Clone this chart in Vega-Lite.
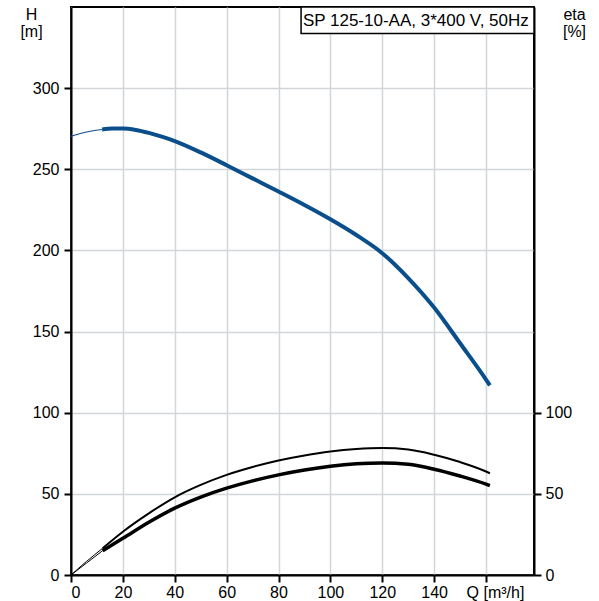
{
  "$schema": "https://vega.github.io/schema/vega-lite/v6.json",
  "width": 463,
  "height": 568,
  "autosize": {"type": "none"},
  "padding": {"left": 71, "top": 7, "right": 65, "bottom": 26},
  "background": "white",
  "config": {
    "font": "Liberation Sans",
    "view": {"stroke": "black", "strokeWidth": 2},
    "axis": {
      "domainColor": "black", "domainWidth": 2,
      "tickColor": "black", "tickWidth": 2, "tickSize": 7,
      "labelFont": "Liberation Sans", "labelFontSize": 16, "labelColor": "black",
      "titleFont": "Liberation Sans", "titleFontSize": 16, "titleFontWeight": "normal", "titleColor": "black",
      "gridColor": "#d3d6d9", "gridWidth": 1.5
    }
  },
  "datasets": {
    "curves": [
      {"s": "H_thin", "Q": 0, "v": 270.3}, {"s": "H_thin", "Q": 4, "v": 272.2}, {"s": "H_thin", "Q": 8, "v": 273.6}, {"s": "H_thin", "Q": 12, "v": 274.5},
      {"s": "H", "Q": 12, "v": 274.5}, {"s": "H", "Q": 16, "v": 275.1}, {"s": "H", "Q": 20, "v": 275.1}, {"s": "H", "Q": 25, "v": 274.2}, {"s": "H", "Q": 30, "v": 272.4}, {"s": "H", "Q": 35, "v": 270.1}, {"s": "H", "Q": 40, "v": 267.4}, {"s": "H", "Q": 50, "v": 260.4}, {"s": "H", "Q": 60, "v": 252.5}, {"s": "H", "Q": 70, "v": 244.4}, {"s": "H", "Q": 80, "v": 236.3}, {"s": "H", "Q": 90, "v": 228}, {"s": "H", "Q": 100, "v": 219.2}, {"s": "H", "Q": 110, "v": 209.5}, {"s": "H", "Q": 120, "v": 198.3}, {"s": "H", "Q": 130, "v": 183}, {"s": "H", "Q": 140, "v": 164.8}, {"s": "H", "Q": 150, "v": 142.8}, {"s": "H", "Q": 160, "v": 120.4}, {"s": "H", "Q": 161.5, "v": 116.8},
      {"s": "eta1_thin", "Q": 0, "v": 0}, {"s": "eta1_thin", "Q": 6, "v": 8.4}, {"s": "eta1_thin", "Q": 12.2, "v": 16.5},
      {"s": "eta1", "Q": 12.2, "v": 16.5}, {"s": "eta1", "Q": 20, "v": 26.7}, {"s": "eta1", "Q": 30, "v": 38}, {"s": "eta1", "Q": 40, "v": 47.9}, {"s": "eta1", "Q": 50, "v": 55.5}, {"s": "eta1", "Q": 60, "v": 61.7}, {"s": "eta1", "Q": 70, "v": 66.6}, {"s": "eta1", "Q": 80, "v": 70.6}, {"s": "eta1", "Q": 90, "v": 73.7}, {"s": "eta1", "Q": 100, "v": 76.1}, {"s": "eta1", "Q": 110, "v": 77.6}, {"s": "eta1", "Q": 120, "v": 78.2}, {"s": "eta1", "Q": 130, "v": 77.3}, {"s": "eta1", "Q": 140, "v": 74.1}, {"s": "eta1", "Q": 150, "v": 69.6}, {"s": "eta1", "Q": 160, "v": 63.8}, {"s": "eta1", "Q": 161.5, "v": 62.7},
      {"s": "eta2_thin", "Q": 0, "v": 0}, {"s": "eta2_thin", "Q": 6, "v": 7.4}, {"s": "eta2_thin", "Q": 12.2, "v": 15},
      {"s": "eta2", "Q": 12.2, "v": 15}, {"s": "eta2", "Q": 20, "v": 22.6}, {"s": "eta2", "Q": 30, "v": 32.5}, {"s": "eta2", "Q": 40, "v": 41.2}, {"s": "eta2", "Q": 50, "v": 48}, {"s": "eta2", "Q": 60, "v": 53.5}, {"s": "eta2", "Q": 70, "v": 58}, {"s": "eta2", "Q": 80, "v": 61.7}, {"s": "eta2", "Q": 90, "v": 64.7}, {"s": "eta2", "Q": 100, "v": 67}, {"s": "eta2", "Q": 110, "v": 68.5}, {"s": "eta2", "Q": 120, "v": 69}, {"s": "eta2", "Q": 130, "v": 68.2}, {"s": "eta2", "Q": 140, "v": 65.2}, {"s": "eta2", "Q": 150, "v": 61}, {"s": "eta2", "Q": 160, "v": 56}, {"s": "eta2", "Q": 161.5, "v": 55.1}
    ],
    "box": [{"label": "SP 125-10-AA, 3*400 V, 50Hz", "x0": 88.7, "x1": 178.5, "y0": 333.6, "y1": 350, "tx": 89.4, "ty": 338.6}]
  },
  "layer": [
    {
      "encoding": {
        "x": {"field": "Q", "type": "quantitative", "scale": {"domain": [0, 178.5], "nice": false, "zero": false},
          "axis": {"values": [0, 20, 40, 60, 80, 100, 120, 140, 160], "title": null, "grid": true, "labelPadding": 2,
            "labelExpr": "datum.value == 160 ? 'Q [m³/h]' : datum.label",
            "labelOffset": {"condition": {"test": "datum.value == 160", "value": 9}, "value": 0}}},
        "y": {"field": "v", "type": "quantitative", "scale": {"domain": [0, 350], "nice": false},
          "axis": {"orient": "left", "values": [0, 50, 100, 150, 200, 250, 300], "grid": true, "labelPadding": 5,
            "title": ["H", "[m]"], "titleAngle": 0, "titleAlign": "center", "titleBaseline": "alphabetic",
            "titleX": -40, "titleY": 12, "titleLineHeight": 17}}
      },
      "layer": [
        {"data": {"name": "curves"}, "transform": [{"filter": "datum.s == 'H_thin'"}],
          "mark": {"type": "line", "color": "#0a4f8c", "strokeWidth": 1.2, "interpolate": "monotone"}},
        {"data": {"name": "curves"}, "transform": [{"filter": "datum.s == 'H'"}],
          "mark": {"type": "line", "color": "#0a4f8c", "strokeWidth": 4, "interpolate": "monotone", "strokeCap": "butt"}},
        {"data": {"name": "box"},
          "mark": {"type": "rect", "fill": "white", "stroke": "black", "strokeWidth": 1.5},
          "encoding": {"x": {"field": "x0", "type": "quantitative"}, "x2": {"field": "x1"}, "y": {"field": "y0", "type": "quantitative"}, "y2": {"field": "y1"}}},
        {"data": {"name": "box"},
          "mark": {"type": "text", "align": "left", "baseline": "alphabetic", "fontSize": 17, "font": "Liberation Sans", "color": "black"},
          "encoding": {"x": {"field": "tx", "type": "quantitative"}, "y": {"field": "ty", "type": "quantitative"}, "text": {"field": "label"}}}
      ]
    },
    {
      "data": {"name": "curves"},
      "encoding": {
        "x": {"field": "Q", "type": "quantitative", "scale": {"domain": [0, 178.5], "nice": false, "zero": false}},
        "y": {"field": "v", "type": "quantitative", "scale": {"domain": [0, 350], "nice": false},
          "axis": {"orient": "right", "values": [0, 50, 100], "grid": false, "labelPadding": 4,
            "title": ["eta", "[%]"], "titleAngle": 0, "titleAlign": "center", "titleBaseline": "alphabetic",
            "titleX": 40, "titleY": 12, "titleLineHeight": 17}}
      },
      "layer": [
        {"transform": [{"filter": "datum.s == 'eta1_thin'"}], "mark": {"type": "line", "color": "black", "strokeWidth": 1, "interpolate": "monotone"}},
        {"transform": [{"filter": "datum.s == 'eta2_thin'"}], "mark": {"type": "line", "color": "black", "strokeWidth": 1, "interpolate": "monotone"}},
        {"transform": [{"filter": "datum.s == 'eta1'"}], "mark": {"type": "line", "color": "black", "strokeWidth": 2, "interpolate": "monotone"}},
        {"transform": [{"filter": "datum.s == 'eta2'"}], "mark": {"type": "line", "color": "black", "strokeWidth": 3.5, "interpolate": "monotone"}}
      ]
    }
  ],
  "resolve": {"scale": {"y": "independent"}}
}
